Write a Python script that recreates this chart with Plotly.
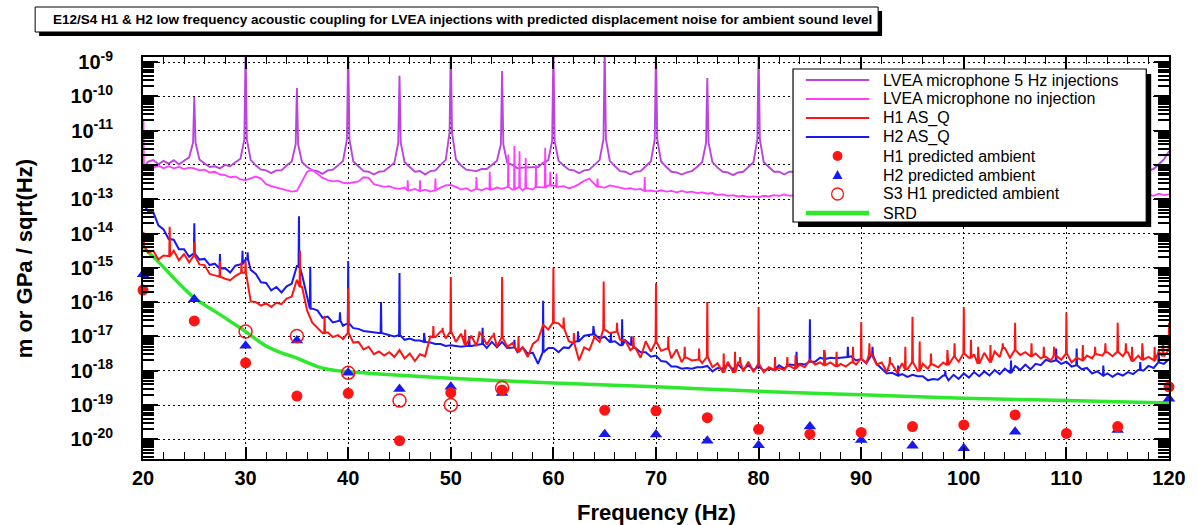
import plotly.graph_objects as go

# ---------------- data (log10 of amplitude) ----------------
F0, DF = 20.0, 0.5   # spectra sampled every 0.5 Hz from 20 to 120 Hz

RED_LOG = [
    -14.35, -14.56, -14.50, -14.76, -14.64, -14.66, -14.50, -14.78, -14.60, -14.84,
    -14.64, -14.90, -14.92, -15.18, -15.22, -15.26, -15.32, -15.36, -15.24, -15.14,
    -15.15, -15.98, -16.00, -16.10, -16.04, -16.14, -16.02, -16.06, -15.90, -15.84,
    -15.35, -15.55, -16.25, -16.60, -16.76, -16.90, -16.88, -17.02, -16.96, -17.08,
    -16.90, -17.18, -17.16, -17.38, -17.30, -17.52, -17.44, -17.56, -17.46, -17.60,
    -17.40, -17.64, -17.50, -17.72, -17.52, -17.58, -17.00, -17.02, -16.86, -17.06,
    -16.86, -17.16, -16.92, -17.24, -16.98, -17.28, -16.94, -17.24, -17.00, -17.30,
    -17.02, -17.30, -17.20, -17.46, -17.32, -17.60, -17.22, -17.10, -16.66, -16.80,
    -16.60, -16.62, -16.76, -17.14, -17.20, -17.70, -17.32, -17.40, -17.02, -17.16,
    -16.80, -16.90, -16.86, -17.10, -17.12, -17.40, -17.34, -17.62, -17.14, -17.44,
    -17.16, -17.42, -17.36, -17.64, -17.38, -17.75, -17.62, -17.70, -17.68, -17.78,
    -17.60, -17.90, -17.78, -18.04, -17.74, -18.04, -17.76, -18.02, -17.74, -18.04,
    -17.80, -18.04, -17.90, -17.98, -17.92, -17.98, -17.86, -17.94, -17.82, -17.90,
    -17.68, -17.82, -17.76, -17.84, -17.76, -17.88, -17.80, -17.88, -17.76, -17.82,
    -17.65, -17.78, -17.52, -17.82, -17.76, -18.04, -17.80, -18.06, -17.78, -17.96,
    -17.75, -18.00, -17.80, -17.94, -17.82, -17.90, -17.76, -17.84, -17.60, -17.74,
    -17.50, -17.62, -17.52, -17.80, -17.48, -17.76, -17.44, -17.60, -17.34, -17.62,
    -17.40, -17.54, -17.46, -17.58, -17.50, -17.64, -17.60, -17.70, -17.56, -17.68,
    -17.50, -17.76, -17.62, -17.70, -17.56, -17.64, -17.52, -17.56, -17.46, -17.58,
    -17.45, -17.58, -17.46, -17.72, -17.56, -17.68, -17.60, -17.70, -17.44, -17.58,
    -17.40,
]
RED_SPIKE_F = [20.05, 22.6, 25.0, 27.5, 29.6, 30.0, 35.3, 37.7, 40.0, 48.3, 49.2, 50.0,
               51.4, 52.8, 54.2, 55.0, 56.6, 60.0, 61.0, 62.0, 64.9, 66.2, 67.8, 70.0,
               71.2, 72.8, 74.2, 75.0, 76.6, 77.7, 78.2, 80.0, 81.6, 82.8, 83.6, 86.4,
               87.6, 89.2, 90.0, 90.8, 92.8, 94.3, 95.0, 95.7, 96.8, 98.4, 99.1, 100.0,
               100.7, 101.4, 102.6, 103.8, 105.0, 106.6, 107.8, 108.8, 110.0, 111.6,
               112.8, 113.8, 115.0, 115.8, 116.4, 117.4, 118.6, 119.4, 120.0]
RED_SPIKE_LOG = [-13.95, -13.80, -14.25, -14.80, -14.85, -14.80, -14.50, -16.40, -15.60, -16.70, -16.75, -15.27,
                 -16.80, -16.85, -16.90, -15.27, -17.00, -15.00, -16.45, -16.90, -15.40, -16.60, -17.00, -15.45,
                 -17.00, -17.30, -17.35, -16.00, -17.50, -17.45, -17.60, -16.15, -17.60, -17.60, -17.55, -17.40,
                 -17.45, -17.30, -16.58, -17.20, -17.60, -17.30, -16.43, -17.15, -17.50, -17.40, -17.20, -16.15,
                 -17.10, -17.30, -17.25, -17.20, -16.60, -17.20, -17.30, -17.30, -16.30, -17.25,
                 -17.30, -17.20, -16.60, -17.20, -17.30, -17.20, -17.30, -17.10, -16.60]

BLUE_LOG = [
    -13.10, -13.36, -13.38, -13.76, -13.88, -14.16, -14.18, -14.46, -14.46, -14.68,
    -14.58, -14.76, -14.74, -14.92, -14.88, -15.02, -15.01, -15.14, -14.94, -14.89,
    -14.76, -15.06, -15.18, -15.42, -15.44, -15.66, -15.56, -15.72, -15.54, -15.46,
    -14.95, -15.20, -15.85, -16.19, -16.24, -16.46, -16.42, -16.59, -16.54, -16.69,
    -16.61, -16.76, -16.78, -16.84, -16.86, -16.90, -16.90, -16.92, -16.94, -17.00,
    -16.96, -17.10, -17.06, -17.12, -17.12, -17.16, -17.18, -17.22, -17.22, -17.28,
    -17.26, -17.28, -17.30, -17.28, -17.28, -17.26, -17.22, -17.34, -17.16, -17.32,
    -17.16, -17.34, -17.32, -17.46, -17.32, -17.50, -17.48, -17.80, -17.46, -17.34,
    -17.34, -17.46, -17.32, -17.34, -17.16, -17.14, -16.98, -16.96, -16.94, -17.06,
    -17.01, -17.16, -17.14, -17.26, -17.11, -17.24, -17.34, -17.46, -17.46, -17.59,
    -17.56, -17.72, -17.74, -17.88, -17.88, -17.94, -17.92, -17.94, -17.90, -17.90,
    -17.86, -18.02, -17.92, -17.94, -17.82, -17.96, -17.82, -17.96, -17.84, -17.98,
    -17.88, -18.00, -17.94, -17.98, -17.84, -17.94, -17.82, -17.84, -17.80, -17.82,
    -17.74, -17.74, -17.62, -17.66, -17.62, -17.64, -17.62, -17.60, -17.58, -17.70,
    -17.66, -17.78, -17.54, -17.80, -17.94, -18.08, -18.06, -18.14, -18.10, -18.18,
    -18.12, -18.16, -18.16, -18.28, -18.24, -18.26, -18.14, -18.28, -18.12, -18.24,
    -18.08, -18.20, -18.04, -18.16, -18.02, -18.14, -17.98, -18.10, -17.94, -18.06,
    -17.86, -17.98, -17.82, -17.96, -17.80, -17.84, -17.68, -17.74, -17.70, -17.80,
    -17.74, -17.88, -17.84, -17.96, -17.92, -18.08, -18.02, -18.14, -18.08, -18.18,
    -18.08, -18.14, -18.04, -18.10, -17.98, -18.00, -17.86, -17.92, -17.76, -17.80,
    -17.66,
]
BLUE_SPIKE_F = [25.0, 27.5, 29.7, 30.2, 35.2, 36.3, 39.2, 40.0, 43.2, 45.0, 47.4, 51.8,
                53.1, 56.2, 59.0, 62.4, 63.9, 65.6, 66.7, 67.6, 83.7, 85.0, 86.4, 88.7,
                91.1, 93.6, 98.2, 104.6, 109.0, 111.0, 113.6, 117.2, 119.0]
BLUE_SPIKE_LOG = [-13.70, -14.60, -14.50, -14.55, -13.50, -14.97, -16.30, -14.80, -16.00, -15.15, -16.90, -17.00,
                  -16.75, -17.10, -15.96, -16.85, -16.70, -16.90, -16.50, -17.00, -17.45, -16.50, -17.40, -17.30,
                  -17.30, -17.85, -18.00, -17.70, -17.35, -17.35, -17.85, -17.75, -17.40]

MIC5_LOG = [
    -12.10, -11.90, -11.86, -11.98, -11.88, -11.96, -11.86, -11.98, -11.88, -11.78,
    -11.55, -11.84, -11.96, -12.06, -12.04, -12.10, -12.00, -12.04, -11.92, -11.82,
    -11.50, -11.86, -12.02, -12.14, -12.16, -12.24, -12.16, -12.16, -12.02, -11.90,
    -11.65, -11.92, -12.06, -12.16, -12.18, -12.26, -12.16, -12.14, -12.02, -11.88,
    -11.48, -11.90, -12.04, -12.18, -12.20, -12.28, -12.20, -12.18, -12.06, -11.94,
    -11.60, -11.92, -12.06, -12.20, -12.18, -12.28, -12.18, -12.16, -12.00, -11.86,
    -11.35, -11.84, -12.02, -12.14, -12.16, -12.18, -12.12, -12.12, -12.00, -11.88,
    -11.68, -11.94, -12.00, -12.10, -12.08, -12.08, -12.08, -12.06, -11.94, -11.86,
    -11.62, -11.88, -12.02, -12.14, -12.16, -12.24, -12.16, -12.14, -12.00, -11.86,
    -11.55, -11.88, -12.04, -12.18, -12.20, -12.28, -12.20, -12.18, -12.04, -11.90,
    -11.55, -11.90, -12.06, -12.20, -12.22, -12.28, -12.22, -12.18, -12.06, -11.92,
    -11.62, -11.92, -12.08, -12.20, -12.22, -12.30, -12.22, -12.20, -12.06, -11.92,
    -11.58, -11.92, -12.06, -12.20, -12.20, -12.28, -12.20, -12.20, -12.06, -11.94,
    -11.62, -11.94, -12.08, -12.20, -12.22, -12.30, -12.22, -12.20, -12.08, -11.94,
    -11.60, -11.92, -12.06, -12.20, -12.20, -12.30, -12.20, -12.20, -12.06, -11.92,
    -11.62, -11.94, -12.08, -12.22, -12.22, -12.30, -12.22, -12.22, -12.08, -11.94,
    -11.58, -11.92, -12.06, -12.20, -12.22, -12.28, -12.20, -12.20, -12.06, -11.92,
    -11.62, -11.94, -12.08, -12.22, -12.22, -12.30, -12.22, -12.20, -12.08, -11.94,
    -11.60, -11.92, -12.06, -12.20, -12.20, -12.28, -12.20, -12.20, -12.06, -11.92,
    -11.62, -11.94, -12.08, -12.20, -12.20, -12.26, -12.16, -12.12, -11.98, -11.84,
    -11.60,
]
MIC5_PEAK_F = [25, 30, 35, 40, 45, 50, 55, 60, 65, 70, 75, 80, 85, 90, 95, 100, 105, 110, 115]
MIC5_PEAK_LOG = [-10.02, -8.60, -9.76, -8.60, -9.40, -8.60, -9.26, -8.60, -8.60, -8.60,
                 -9.47, -8.60, -9.60, -9.50, -9.70, -9.50, -9.60, -9.60, -9.80]
MIC5_PEAK_SKIRT = [-11.35, -11.25, -11.40, -11.25, -11.35, -11.05, -11.40, -11.30, -11.25, -11.25,
                   -11.35, -11.25, -11.35, -11.30, -11.35, -11.30, -11.35, -11.30, -11.35]

MIC0_LOG = [
    -12.06, -12.00, -12.08, -12.02, -12.10, -12.04, -12.10, -12.06, -12.12, -12.08,
    -12.10, -12.16, -12.14, -12.22, -12.20, -12.28, -12.30, -12.36, -12.34, -12.42,
    -12.44, -12.38, -12.34, -12.40, -12.56, -12.62, -12.66, -12.72, -12.74, -12.78,
    -12.76, -12.50, -12.20, -12.14, -12.26, -12.38, -12.44, -12.48, -12.46, -12.52,
    -12.54, -12.50, -12.48, -12.36, -12.38, -12.56, -12.60, -12.64, -12.62, -12.68,
    -12.70, -12.66, -12.74, -12.70, -12.76, -12.72, -12.78, -12.74, -12.66, -12.60,
    -12.58, -12.64, -12.72, -12.68, -12.76, -12.70, -12.74, -12.68, -12.72, -12.66,
    -12.70, -12.64, -12.72, -12.66, -12.74, -12.68, -12.72, -12.64, -12.66, -12.60,
    -12.60, -12.64, -12.62, -12.68, -12.64, -12.56, -12.46, -12.40, -12.56, -12.64,
    -12.66, -12.60, -12.62, -12.66, -12.70, -12.68, -12.72, -12.70, -12.76, -12.74,
    -12.78, -12.74, -12.78, -12.76, -12.80, -12.76, -12.80, -12.78, -12.82, -12.80,
    -12.84, -12.82, -12.88, -12.86, -12.90, -12.88, -12.92, -12.90, -12.94, -12.92,
    -12.94, -12.90, -12.92, -12.88, -12.90, -12.86, -12.90, -12.88, -12.90, -12.86,
    -12.90, -12.94, -12.92, -12.96, -12.94, -12.98, -12.96, -13.00, -12.98, -13.02,
    -13.00, -13.04, -13.02, -13.06, -13.04, -13.08, -13.06, -13.08, -13.04, -13.06,
    -13.04, -13.08, -13.06, -13.10, -13.08, -13.10, -13.06, -13.08, -13.04, -13.06,
    -13.02, -13.06, -13.04, -13.08, -13.06, -13.10, -13.08, -13.12, -13.10, -13.12,
    -13.08, -13.12, -13.10, -13.14, -13.12, -13.10, -13.06, -13.08, -13.04, -13.06,
    -13.02, -13.06, -13.04, -13.00, -12.98, -13.02, -12.96, -13.00, -12.94, -12.98,
    -12.92, -12.96, -12.90, -12.94, -12.88, -12.92, -12.86, -12.90, -12.84, -12.88,
    -12.86,
]
MIC0_SPIKE_F = [20.05, 45.8, 47.0, 48.5, 52.5, 53.8, 55.6, 56.2, 56.7, 57.3, 58.3, 59.2, 59.7, 60.3, 64.3, 68.9]
MIC0_SPIKE_LOG = [-10.70, -12.45, -12.45, -12.40, -12.35, -12.20, -11.70, -11.45, -11.60, -11.80, -12.00, -11.50,
                  -12.20, -12.25, -12.40, -12.35]

SRD_F = [20, 21, 22, 23, 24, 25, 26, 27, 28, 29, 30, 31, 32, 33, 34, 35, 36, 37, 38, 39, 40,
         45, 50, 55, 60, 70, 80, 90, 100, 110, 120]
SRD_LOG = [-14.40, -14.68, -14.98, -15.30, -15.60, -15.88, -16.08, -16.27, -16.46, -16.66, -16.86,
           -17.08, -17.28, -17.42, -17.53, -17.63, -17.76, -17.88, -17.96, -18.00, -18.03,
           -18.13, -18.22, -18.29, -18.36, -18.47, -18.60, -18.70, -18.80, -18.87, -18.94]

AMB_F = [20, 25, 30, 35, 40, 45, 50, 55, 65, 70, 75, 80, 85, 90, 95, 100, 105, 110, 115, 120]
H1_AMB_LOG = [-15.65, -16.55, -17.77, -18.74, -18.66, -20.04, -18.64, -18.56, -19.15, -19.17,
              -19.37, -19.71, -19.85, -19.80, -19.63, -19.58, -19.29, -19.83, -19.63, -18.47]
H2_AMB_LOG = [-15.19, -15.92, -17.27, -17.12, -18.06, -18.53, -18.47, -18.65, -19.85, -19.86,
              -20.04, -20.17, -19.63, -20.02, -20.19, -20.26, -19.78, -20.58, -19.73, -18.82]
S3_F = [30, 35, 40, 45, 50, 55]
S3_H1_LOG = [-16.86, -16.99, -18.06, -18.87, -19.00, -18.50]

X_TICKS = [20, 30, 40, 50, 60, 70, 80, 90, 100, 110, 120]
Y_EXPS = [-20, -19, -18, -17, -16, -15, -14, -13, -12, -11, -10, -9]

TITLE = ("E12/S4 H1 & H2 low frequency acoustic coupling for LVEA injections "
         "with predicted displacement noise for ambient sound level")
LEGEND_LABELS = ["LVEA microphone 5 Hz injections", "LVEA microphone no injection",
                 "H1 AS_Q", "H2 AS_Q", "H1 predicted ambient", "H2 predicted ambient",
                 "S3 H1 predicted ambient", "SRD"]

# ---------------- styling ----------------
C_MIC5 = "#bb44e0"
C_MIC0 = "#ff3cff"
C_RED = "#ff1414"
C_BLUE = "#1818f0"
C_GREEN = "#2ee82e"
FONT = "Liberation Sans, Arial, Helvetica, sans-serif"


def spectrum(base, spike_f, spike_log, half=0.04, skirt=None):
    grid = [F0 + DF * i for i in range(len(base))]
    pts = [(f, v) for f, v in zip(grid, base) if all(abs(f - s) > half for s in spike_f)]
    for k, (s, top) in enumerate(zip(spike_f, spike_log)):
        i = int(round((s - F0) / DF))
        sh = base[i] if skirt is None else skirt[k]
        pts += [(s - half, sh), (s, top), (s + half, sh)]
    pts.sort()
    return [p[0] for p in pts], [10 ** p[1] for p in pts]


fig = go.Figure()

x, y = spectrum(MIC5_LOG, MIC5_PEAK_F, MIC5_PEAK_LOG, half=0.12, skirt=MIC5_PEAK_SKIRT)
fig.add_trace(go.Scatter(x=x, y=y, mode="lines", line=dict(color=C_MIC5, width=1.9), name=LEGEND_LABELS[0]))
x, y = spectrum(MIC0_LOG, MIC0_SPIKE_F, MIC0_SPIKE_LOG)
fig.add_trace(go.Scatter(x=x, y=y, mode="lines", line=dict(color=C_MIC0, width=1.8), name=LEGEND_LABELS[1]))
fig.add_trace(go.Scatter(x=SRD_F, y=[10 ** v for v in SRD_LOG], mode="lines", line_shape="spline",
                         line=dict(color=C_GREEN, width=3.5), name=LEGEND_LABELS[7]))
x, y = spectrum(BLUE_LOG, BLUE_SPIKE_F, BLUE_SPIKE_LOG)
fig.add_trace(go.Scatter(x=x, y=y, mode="lines", line=dict(color=C_BLUE, width=2.0), name=LEGEND_LABELS[3]))
x, y = spectrum(RED_LOG, RED_SPIKE_F, RED_SPIKE_LOG)
fig.add_trace(go.Scatter(x=x, y=y, mode="lines", line=dict(color=C_RED, width=2.0), name=LEGEND_LABELS[2]))

fig.add_trace(go.Scatter(x=AMB_F, y=[10 ** v for v in H2_AMB_LOG], mode="markers", cliponaxis=False,
                         marker=dict(symbol="triangle-up", size=11, color=C_BLUE), name=LEGEND_LABELS[5]))
fig.add_trace(go.Scatter(x=AMB_F, y=[10 ** v for v in H1_AMB_LOG], mode="markers", cliponaxis=False,
                         marker=dict(symbol="circle", size=11, color=C_RED), name=LEGEND_LABELS[4]))
fig.add_trace(go.Scatter(x=S3_F, y=[10 ** v for v in S3_H1_LOG], mode="markers", cliponaxis=False,
                         marker=dict(symbol="circle-open", size=13, color=C_RED, line=dict(width=1.5)),
                         name=LEGEND_LABELS[6]))

# ---------------- layout geometry (pixels) ----------------
W, H = 1198, 525
PL, PR, PT, PB = 143, 1180, 57, 459


def px(v):
    return (v - PL) / (PR - PL)


def py(v):
    return (PB - v) / (PB - PT)


minor_y = [k * 10.0 ** e for e in range(-21, -8) for k in range(2, 10)]
minor_x = [v for v in range(22, 120, 2) if v % 10]

axis_common = dict(showline=True, linecolor="black", linewidth=2, mirror="allticks",
                   ticks="inside", tickcolor="black", showgrid=True, gridcolor="black",
                   griddash="2px,3px", gridwidth=1.3, zeroline=False,
                   tickfont=dict(family=FONT, size=20, color="black", weight="bold"))

fig.update_layout(
    width=W, height=H, showlegend=False,
    margin=dict(l=PL, r=W - PR, t=PT, b=H - PB, pad=0),
    paper_bgcolor="white", plot_bgcolor="white",
    xaxis=dict(range=[20, 120], tickvals=X_TICKS, ticktext=[str(v) for v in X_TICKS],
               ticklen=12, tickwidth=1.5,
               minor=dict(tickvals=minor_x, ticks="inside", ticklen=7, tickwidth=1.2, tickcolor="black",
                          showgrid=False),
               **axis_common),
    yaxis=dict(type="log", range=[-20.574, -8.854], tickvals=[10.0 ** e for e in Y_EXPS],
               ticktext=["10<sup>%d</sup>" % e for e in Y_EXPS], ticklen=15, tickwidth=1.5,
               ticklabelstandoff=24,
               minor=dict(tickvals=minor_y, ticks="inside", ticklen=11, tickwidth=1.5, tickcolor="black",
                          showgrid=False),
               **axis_common),
)

shapes = []
annotations = []

# title box with drop shadow
shapes.append(dict(type="rect", xref="paper", yref="paper", x0=px(38), x1=px(890), y0=py(36), y1=py(11),
                   fillcolor="black", line=dict(width=0), layer="above"))
shapes.append(dict(type="rect", xref="paper", yref="paper", x0=px(34), x1=px(886), y0=py(32), y1=py(7),
                   fillcolor="white", line=dict(color="black", width=1), layer="above"))
annotations.append(dict(xref="paper", yref="paper", x=px(466), y=py(19.5), text=TITLE, showarrow=False,
                        xanchor="center", yanchor="middle",
                        font=dict(family=FONT, size=13.5, color="black", weight="bold")))

# axis titles
annotations.append(dict(xref="paper", yref="paper", x=px(662), y=py(512), text="Frequency (Hz)",
                        showarrow=False, xanchor="center", yanchor="middle",
                        font=dict(family=FONT, size=22, color="black", weight="bold")))
annotations.append(dict(xref="paper", yref="paper", x=px(23), y=py(259), text="m or GPa / sqrt(Hz)",
                        showarrow=False, xanchor="center", yanchor="middle", textangle=-90,
                        font=dict(family=FONT, size=22, color="black", weight="bold")))

# legend box with drop shadow
LX0, LX1, LY0, LY1 = 800, 1157, 69, 222
shapes.append(dict(type="rect", xref="paper", yref="paper", x0=px(LX0 + 5), x1=px(LX1 + 5),
                   y0=py(LY1 + 5), y1=py(LY0 + 5), fillcolor="black", line=dict(width=0), layer="above"))
shapes.append(dict(type="rect", xref="paper", yref="paper", x0=px(LX0), x1=px(LX1), y0=py(LY1), y1=py(LY0),
                   fillcolor="white", line=dict(color="black", width=1.2), layer="above"))
row_y = [80 + 19 * i for i in range(8)]
line_rows = {0: (C_MIC5, 2), 1: (C_MIC0, 2), 2: (C_RED, 2), 3: (C_BLUE, 2), 7: (C_GREEN, 4.5)}
for i, (col, wd) in line_rows.items():
    shapes.append(dict(type="line", xref="paper", yref="paper", x0=px(813), x1=px(877),
                       y0=py(row_y[i]), y1=py(row_y[i]), line=dict(color=col, width=wd), layer="above"))
mx = 845
shapes.append(dict(type="circle", xref="paper", yref="paper", x0=px(mx - 5), x1=px(mx + 5),
                   y0=py(row_y[4] + 5), y1=py(row_y[4] - 5), fillcolor=C_RED, line=dict(width=0), layer="above"))
ty = row_y[5]
shapes.append(dict(type="path", xref="paper", yref="paper",
                   path="M %f,%f L %f,%f L %f,%f Z" % (px(mx - 5), py(ty + 4), px(mx + 5), py(ty + 4),
                                                        px(mx), py(ty - 5)),
                   fillcolor=C_BLUE, line=dict(width=0), layer="above"))
shapes.append(dict(type="circle", xref="paper", yref="paper", x0=px(mx - 6), x1=px(mx + 6),
                   y0=py(row_y[6] + 6), y1=py(row_y[6] - 6), fillcolor="rgba(0,0,0,0)",
                   line=dict(color=C_RED, width=1.3), layer="above"))
for i, lab in enumerate(LEGEND_LABELS):
    annotations.append(dict(xref="paper", yref="paper", x=px(889), y=py(row_y[i]), text=lab, showarrow=False,
                            xanchor="left", yanchor="middle",
                            font=dict(family=FONT, size=16, color="black")))

fig.update_layout(shapes=shapes, annotations=annotations)

fig.write_html("out.html")
